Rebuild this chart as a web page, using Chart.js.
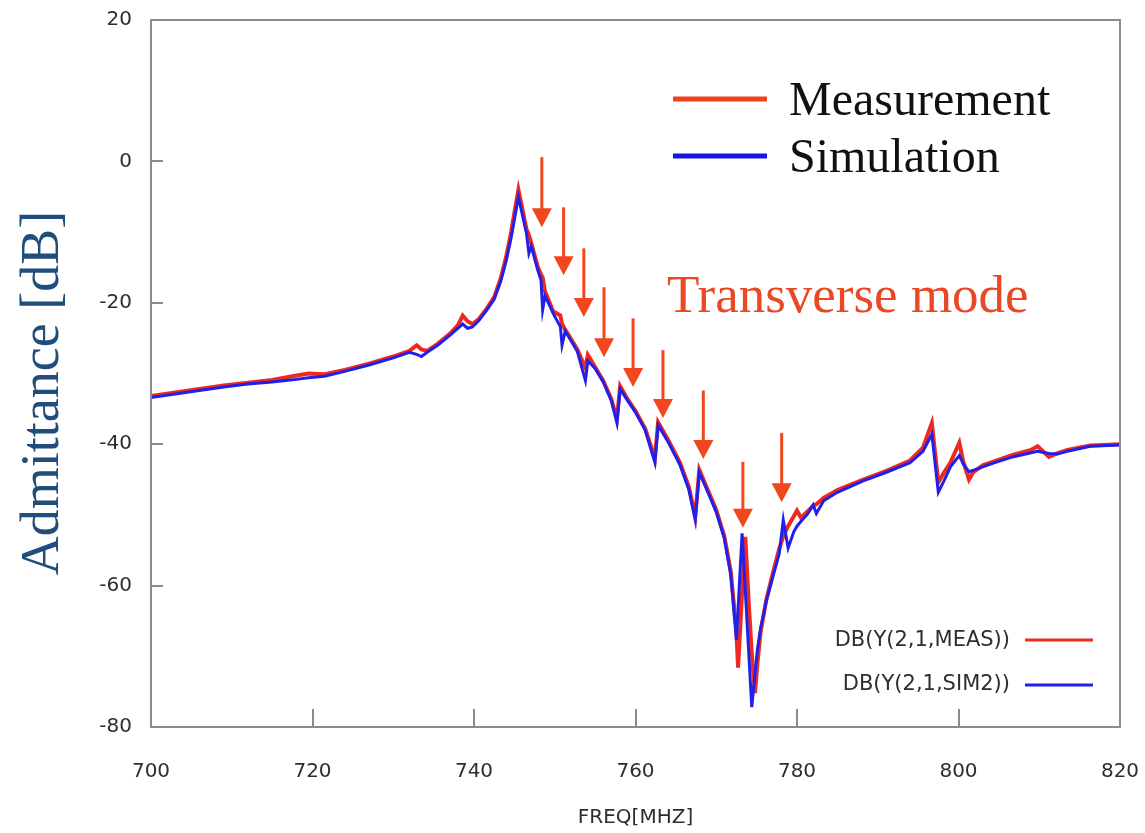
<!DOCTYPE html>
<html>
<head>
<meta charset="utf-8">
<script src="https://cdn.jsdelivr.net/npm/chart.js@4.4.1/dist/chart.umd.min.js"></script>
<style>
html,body{margin:0;padding:0;background:#ffffff;}
#wrap{width:1145px;height:833px;position:relative;}
canvas{display:block;}
</style>
</head>
<body>
<div id="wrap"><canvas id="c" width="1145" height="833"></canvas></div>
<script>
// ---- data ----
const freq = [700.0,703.0,706.0,709.0,712.0,715.0,717.5,719.5,721.5,724.0,727.0,730.0,732.0,732.9,733.5,734.2,735.5,737.0,738.0,738.6,739.2,739.8,740.6,741.6,742.5,743.3,744.0,744.6,745.1,745.5,746.0,746.5,746.8,747.1,747.9,748.3,748.5,748.8,749.8,750.7,750.9,751.3,752.8,753.8,754.1,755.0,756.0,757.0,757.7,758.1,759.0,760.0,761.2,762.4,762.8,764.0,765.5,766.6,767.4,767.9,769.0,770.0,771.0,771.8,772.5,772.7,773.2,773.6,774.0,774.4,774.8,775.1,775.5,776.2,777.0,777.8,778.3,778.9,779.6,780.0,780.5,781.3,782.0,782.4,783.3,785.0,788.2,791.0,794.0,795.6,796.7,797.5,798.2,799.0,800.1,800.6,801.3,801.8,803.0,804.5,806.7,809.0,809.8,811.2,812.2,813.5,816.3,820.0];
const measurement = [-33.2,-32.7,-32.2,-31.7,-31.3,-30.9,-30.4,-30.0,-30.1,-29.5,-28.6,-27.6,-26.8,-26.0,-26.6,-26.8,-25.8,-24.4,-23.2,-21.8,-22.6,-23.0,-22.3,-20.8,-19.2,-16.6,-13.4,-10.0,-6.6,-4.0,-6.8,-9.6,-10.4,-11.6,-14.9,-16.0,-16.4,-18.4,-21.2,-21.8,-23.0,-23.8,-26.6,-29.2,-27.4,-29.1,-31.0,-33.6,-36.4,-31.8,-33.6,-35.3,-37.8,-42.0,-36.9,-39.3,-42.6,-46.0,-50.2,-43.6,-46.6,-49.3,-53.0,-58.0,-66.5,-71.6,-61.0,-53.1,-62.0,-69.6,-75.2,-71.0,-66.5,-62.0,-58.3,-54.8,-53.0,-51.6,-50.2,-49.4,-50.4,-49.5,-48.7,-48.5,-47.6,-46.5,-45.0,-43.8,-42.3,-40.5,-37.0,-45.4,-44.0,-42.6,-39.8,-42.5,-45.0,-44.0,-43.0,-42.4,-41.5,-40.8,-40.3,-41.8,-41.3,-40.8,-40.2,-40.0];
const simulation = [-33.4,-32.9,-32.4,-31.9,-31.5,-31.2,-30.9,-30.6,-30.4,-29.7,-28.8,-27.8,-27.0,-27.3,-27.6,-27.0,-26.0,-24.6,-23.6,-23.0,-23.6,-23.4,-22.5,-21.0,-19.5,-17.0,-14.0,-10.8,-7.6,-5.0,-7.6,-10.2,-13.0,-12.0,-15.4,-16.8,-21.0,-19.0,-21.5,-23.4,-26.0,-24.0,-26.9,-31.0,-28.2,-29.3,-31.2,-33.8,-37.0,-32.2,-33.8,-35.5,-38.0,-42.6,-37.3,-39.6,-42.9,-46.4,-50.7,-44.0,-46.9,-49.6,-53.3,-58.5,-67.7,-63.4,-52.6,-60.8,-69.0,-77.2,-72.5,-69.0,-66.0,-62.2,-58.8,-55.5,-50.7,-54.7,-52.4,-51.6,-50.9,-49.9,-48.6,-49.8,-48.0,-46.8,-45.2,-44.0,-42.6,-41.0,-38.6,-46.8,-45.2,-43.2,-41.6,-42.8,-43.9,-43.7,-43.2,-42.6,-41.8,-41.2,-41.0,-41.3,-41.4,-41.0,-40.3,-40.1];
const xTicks = [700,720,740,760,780,800,820];
const yTicks = [-80,-60,-40,-20,0,20];
// transverse-mode arrows: frequency, tail level, tip level (dB)
const arrowFreq = [748.4,751.1,753.6,756.1,759.7,763.4,768.4,773.3,778.1];
const arrowTail = [0.6,-6.5,-12.3,-17.8,-22.2,-26.7,-32.4,-42.5,-38.4];
const arrowTip  = [-9.3,-16.1,-22.0,-27.7,-31.9,-36.3,-42.1,-51.8,-48.2];
const seriesNames = ['Measurement','Simulation'];
const traceNames = ['DB(Y(2,1,MEAS))','DB(Y(2,1,SIM2))'];
const annotationText = 'Transverse mode';
const yTitle = 'Admittance [dB]';
const xTitle = 'FREQ[MHZ]';

const RED = '#ee2a20';
const BLUE = '#2020ea';
const AXIS = '#8c8c8c';
const ARROW = '#f2461c';
const TICKCOL = '#2e2e2e';

const decor = {
  id: 'decor',
  afterDatasetsDraw(chart) {
    const {ctx, chartArea: a, scales: {x, y}} = chart;
    ctx.save();
    // frame
    ctx.strokeStyle = AXIS; ctx.lineWidth = 2;
    ctx.strokeRect(a.left, a.top, a.right - a.left, a.bottom - a.top);
    // inward tick marks
    xTicks.forEach(v => {
      const px = Math.round(x.getPixelForValue(v));
      ctx.beginPath(); ctx.moveTo(px, a.bottom); ctx.lineTo(px, a.bottom - 18); ctx.stroke();
    });
    yTicks.forEach(v => {
      const py = Math.round(y.getPixelForValue(v));
      ctx.beginPath(); ctx.moveTo(a.left, py); ctx.lineTo(a.left + 12, py); ctx.stroke();
    });
    // arrows
    ctx.strokeStyle = ARROW; ctx.fillStyle = ARROW; ctx.lineWidth = 3;
    arrowFreq.forEach((f, i) => {
      const px = x.getPixelForValue(f);
      const pt = y.getPixelForValue(arrowTail[i]);
      const pp = y.getPixelForValue(arrowTip[i]);
      const hl = 19, hw = 10;
      ctx.beginPath(); ctx.moveTo(px, pt); ctx.lineTo(px, pp - hl + 2); ctx.stroke();
      ctx.beginPath(); ctx.moveTo(px - hw, pp - hl); ctx.lineTo(px + hw, pp - hl); ctx.lineTo(px, pp); ctx.closePath(); ctx.fill();
    });
    // big legend
    ctx.lineWidth = 5;
    ctx.strokeStyle = '#f0401e';
    ctx.beginPath(); ctx.moveTo(673, 99); ctx.lineTo(767, 99); ctx.stroke();
    ctx.strokeStyle = '#1414e0';
    ctx.beginPath(); ctx.moveTo(673, 156); ctx.lineTo(767, 156); ctx.stroke();
    ctx.fillStyle = '#111';
    ctx.font = '48px "Liberation Serif", serif';
    ctx.textAlign = 'left'; ctx.textBaseline = 'alphabetic';
    ctx.fillText(seriesNames[0], 789, 115);
    ctx.fillText(seriesNames[1], 789, 172);
    // annotation text
    ctx.fillStyle = '#ea4824';
    ctx.font = '53px "Liberation Serif", serif';
    ctx.fillText(annotationText, 667, 312);
    // small trace legend
    ctx.font = '21px "DejaVu Sans", sans-serif';
    ctx.fillStyle = TICKCOL;
    ctx.textAlign = 'right'; ctx.textBaseline = 'middle';
    ctx.fillText(traceNames[0], 1010, 641);
    ctx.fillText(traceNames[1], 1010, 685);
    ctx.lineWidth = 3;
    ctx.strokeStyle = RED;
    ctx.beginPath(); ctx.moveTo(1025, 640); ctx.lineTo(1093, 640); ctx.stroke();
    ctx.strokeStyle = BLUE;
    ctx.beginPath(); ctx.moveTo(1025, 685); ctx.lineTo(1093, 685); ctx.stroke();
    // y axis title
    ctx.save();
    ctx.translate(44, 393);
    ctx.rotate(-Math.PI / 2);
    ctx.fillStyle = '#1f4e7c';
    ctx.font = '54px "Liberation Serif", serif';
    ctx.textAlign = 'center'; ctx.textBaseline = 'middle';
    ctx.fillText(yTitle, 0, 0);
    ctx.restore();
    ctx.restore();
  }
};

new Chart(document.getElementById('c'), {
  type: 'line',
  data: {
    datasets: [
      { label: traceNames[0], data: freq.map((f, i) => ({x: f, y: measurement[i]})),
        borderColor: RED, borderWidth: 4, pointRadius: 0, tension: 0, order: 2 },
      { label: traceNames[1], data: freq.map((f, i) => ({x: f, y: simulation[i]})),
        borderColor: BLUE, borderWidth: 3, pointRadius: 0, tension: 0, order: 1 }
    ]
  },
  options: {
    responsive: false, animation: false, devicePixelRatio: 1,
    layout: { padding: { left: 0, right: 0, top: 20, bottom: 0 } },
    plugins: { legend: { display: false }, tooltip: { enabled: false } },
    scales: {
      x: {
        type: 'linear', min: 700, max: 820,
        afterBuildTicks: s => { s.ticks = xTicks.map(v => ({ value: v })); },
        grid: { display: false },
        border: { display: true, color: AXIS, width: 2 },
        ticks: { padding: 25, color: TICKCOL, font: { family: 'DejaVu Sans', size: 20 }, maxRotation: 0, autoSkip: false },
        title: { display: true, text: xTitle, color: TICKCOL, font: { family: 'DejaVu Sans', size: 20 }, padding: { top: 0, bottom: 3 } },
        afterFit: s => { s.height = 106; s.paddingLeft = 0; s.paddingRight = 25; }
      },
      y: {
        type: 'linear', min: -80, max: 20,
        afterBuildTicks: s => { s.ticks = yTicks.map(v => ({ value: v })); },
        grid: { display: false },
        border: { display: true, color: AXIS, width: 2 },
        ticks: { padding: 11, color: TICKCOL, font: { family: 'DejaVu Sans', size: 20 }, autoSkip: false },
        afterFit: s => { s.width = 151; s.paddingTop = 0; s.paddingBottom = 0; }
      }
    }
  },
  plugins: [decor]
});
</script>
</body>
</html>
